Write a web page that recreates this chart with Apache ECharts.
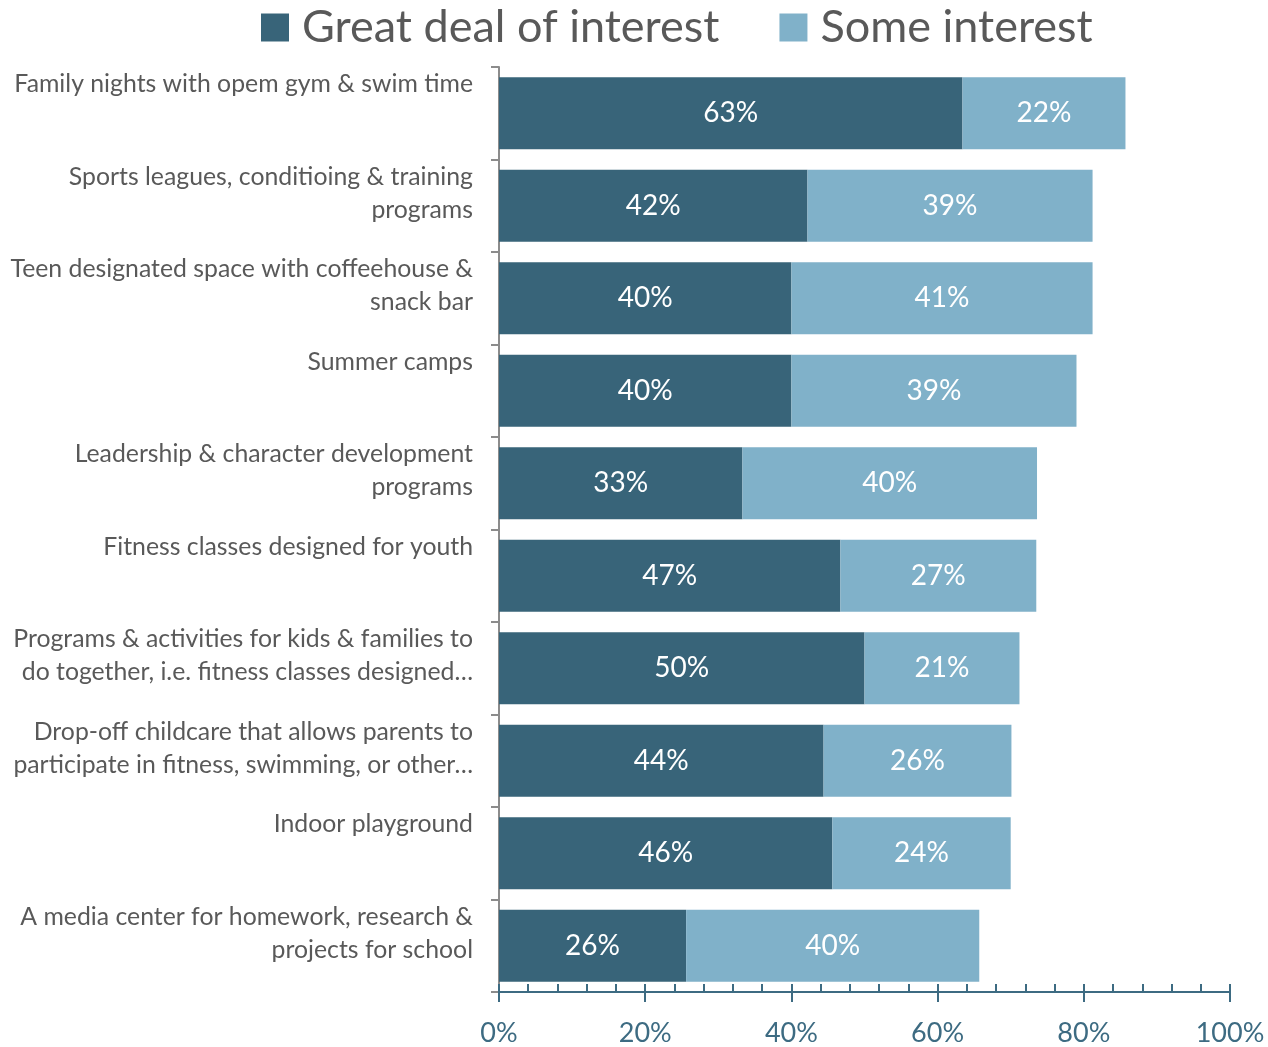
<!DOCTYPE html>
<html>
<head>
<meta charset="utf-8">
<script src="https://cdn.jsdelivr.net/npm/echarts@6/dist/echarts.min.js"></script>
<style>
  html, body { margin: 0; padding: 0; background: #fff; }
  #chart { width: 1268px; height: 1047px; }
</style>
</head>
<body>
<div id="chart"></div>
<script>
// categories, top to bottom
const categories = [
  'Family nights with opem gym & swim time',
  'Sports leagues, conditioing & training\nprograms',
  'Teen designated space with coffeehouse &\nsnack bar',
  'Summer camps',
  'Leadership & character development\nprograms',
  'Fitness classes designed for youth',
  'Programs & activities for kids & families to\ndo together, i.e. fitness classes designed…',
  'Drop-off childcare that allows parents to\nparticipate in fitness, swimming, or other…',
  'Indoor playground',
  'A media center for homework, research &\nprojects for school'
]
// percentages
const greatDeal = [63.4, 42.2, 40.0, 40.0, 33.3, 46.7, 50.0, 44.4, 45.6, 25.6]
const someInterest = [22.3, 39.0, 41.2, 39.0, 40.3, 26.8, 21.2, 25.7, 24.4, 40.1]
const xTicks = [0, 20, 40, 60, 80, 100]

const DARK = '#386479'
const LIGHT = '#80b1c9'
const FONT = 'Lato'

let chart = echarts.init(document.getElementById('chart'))

let barLabel = {
  show: true,
  position: 'inside',
  color: '#fff',
  fontFamily: FONT,
  fontSize: 28,
  formatter: p => Math.round(p.value) + '%'
}

let option = {
  animation: false,
  legend: {
    top: 0,
    left: 256,
    itemWidth: 28,
    itemHeight: 28,
    itemGap: 60,
    icon: 'rect',
    textStyle: { color: '#595959', fontFamily: FONT, fontSize: 45, padding: [0, 0, 0, 8] },
    data: ['Great deal of interest', 'Some interest']
  },
  grid: { left: 499, right: 38, top: 67, bottom: 55 },
  xAxis: [{
    type: 'value',
    min: 0,
    max: 100,
    interval: 20,
    position: 'bottom',
    axisLine: { show: true, lineStyle: { color: '#3d6b82', width: 2 } },
    axisTick: { show: true, length: 10, lineStyle: { color: '#3d6b82', width: 2 } },
    splitLine: { show: false },
    axisLabel: {
      margin: 28,
      color: '#3d6b82',
      fontFamily: FONT,
      fontSize: 27,
      formatter: v => xTicks.includes(v) ? v + '%' : ''
    }
  }, {
    type: 'value',
    min: 0,
    max: 100,
    interval: 4,
    position: 'bottom',
    offset: 0,
    axisLine: { show: false },
    axisTick: { show: true, inside: true, length: 8, lineStyle: { color: '#3d6b82', width: 2 } },
    splitLine: { show: false },
    axisLabel: { show: false }
  }],
  yAxis: {
    type: 'category',
    inverse: true,
    data: categories,
    axisLine: { show: true, lineStyle: { color: '#8c8c8c', width: 2 } },
    axisTick: { show: true, interval: 0, length: 8, lineStyle: { color: '#8c8c8c', width: 2 } },
    axisLabel: {
      margin: 26,
      interval: 0,
      align: 'right',
      formatter: v => {
        let lines = v.split('\n')
        let spacer = lines.length === 1 ? '{s1|\u00a0}' : '{s2|\u00a0}'
        return lines.map(l => '{t|' + l + '}').join('\n') + '\n' + spacer
      },
      rich: {
        t: { color: '#595959', fontFamily: FONT, fontSize: 24.8, lineHeight: 33, align: 'right' },
        s1: { fontSize: 1, lineHeight: 58 },
        s2: { fontSize: 1, lineHeight: 25 }
      }
    }
  },
  series: [{
    name: 'Great deal of interest',
    type: 'bar',
    stack: 'total',
    barCategoryGap: '22%',
    itemStyle: { color: DARK },
    label: barLabel,
    data: greatDeal
  }, {
    name: 'Some interest',
    type: 'bar',
    stack: 'total',
    barCategoryGap: '22%',
    itemStyle: { color: LIGHT },
    label: barLabel,
    data: someInterest
  }]
}

chart.setOption(option)
window.onresize = function () {
  chart.resize()
}
</script>
</body>
</html>
